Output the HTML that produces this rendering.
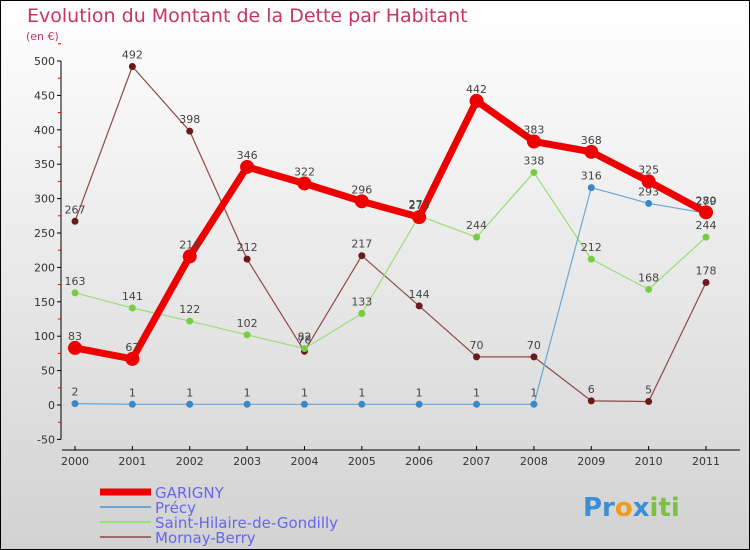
<!DOCTYPE html>
<html><head><meta charset="utf-8"><style>
body{margin:0}
#c{width:750px;height:550px;position:relative;overflow:hidden;font-family:"DejaVu Sans","Liberation Sans",sans-serif}
</style></head><body>
<div id="c">
<svg width="750" height="550" xmlns="http://www.w3.org/2000/svg">
<defs><linearGradient id="bg" x1="0" y1="0" x2="0" y2="1"><stop offset="0" stop-color="#ffffff"/><stop offset="1" stop-color="#d2d2d2"/></linearGradient></defs>
<rect x="0.5" y="0.5" width="749" height="549" fill="url(#bg)" stroke="#000"/>
<text x="27" y="22" font-size="19" fill="#c8336a">Evolution du Montant de la Dette par Habitant</text>
<text x="26" y="40" font-size="11" fill="#c8336a">(en €)</text>
<g id="axes"></g><g id="series"></g><g id="legend"></g>
<text x="583" y="516" font-size="26" font-weight="bold"><tspan fill="#3a8fd6">Pr</tspan><tspan fill="#f29a1f">o</tspan><tspan fill="#3a8fd6">x</tspan><tspan fill="#7bc043">iti</tspan></text>
</svg>
</div>
<script>
const years=["2000","2001","2002","2003","2004","2005","2006","2007","2008","2009","2010","2011"];
const garigny=[83,67,216,346,322,296,273,442,383,368,325,280];
const precy=[2,1,1,1,1,1,1,1,1,316,293,279];
const sthilaire=[163,141,122,102,82,133,275,244,338,212,168,244];
const mornay=[267,492,398,212,78,217,144,70,70,6,5,178];
const yTicks=[-50,0,50,100,150,200,250,300,350,400,450,500];
const NS="http://www.w3.org/2000/svg";
function xs(i){return 75+i*(706-75)/11;}
function ys(v){return 405-v*(344/500);}
function mk(t,a,p){const e=document.createElementNS(NS,t);for(const k in a)e.setAttribute(k,a[k]);p.appendChild(e);return e;}
const ax=document.getElementById('axes');
let yl=mk('line',{x1:61,y1:ys(500),x2:61,y2:ys(-50),stroke:'#000'},ax);


let xl=mk('line',{x1:62,y1:450,x2:740,y2:450,stroke:'#000'},ax);


yTicks.forEach(v=>{
 mk('line',{x1:57,y1:ys(v),x2:61,y2:ys(v),stroke:'#000'},ax);
 mk('line',{x1:58,y1:ys(v+25),x2:61,y2:ys(v+25),stroke:'#e00'},ax);
 const t=mk('text',{x:55,y:ys(v)+4,'font-size':11,fill:'#333','text-anchor':'end'},ax);t.textContent=v;
 
 
});
years.forEach((y,i)=>{
 mk('line',{x1:xs(i),y1:446,x2:xs(i),y2:450,stroke:'#000'},ax);
 const t=mk('text',{x:xs(i),y:465,'font-size':11,fill:'#333','text-anchor':'middle'},ax);t.textContent=y;
 
 
});
const sg=document.getElementById('series');
function draw(data,color,w,r,name,dot){
 const g=mk('g',{},sg);
 
 
 mk('polyline',{points:data.map((v,i)=>xs(i)+','+ys(v)).join(' '),fill:'none',stroke:color,'stroke-width':w,'stroke-linejoin':'round'},g);
 data.forEach((v,i)=>{
  const c=mk('circle',{cx:xs(i),cy:ys(v),r:r,fill:dot},g);
  
  
  const t=mk('text',{x:xs(i),y:ys(v)-8,'font-size':11,fill:'#444','text-anchor':'middle'},g);t.textContent=v;
  
  
 });
}
draw(mornay,'#8b4a4a',1.2,3.5,'mornay-berry','#6b1a1a');
draw(sthilaire,'#99dd77',1.2,3.5,'saint-hilaire','#77cc44');
draw(precy,'#6aa6d6',1.2,3.5,'precy','#3a88c8');
draw(garigny,'#ee0000',7,7,'garigny','#ee0000');
const lg=document.getElementById('legend');
const items=[["GARIGNY","#ee0000",7],["Précy","#6aa6d6",2],["Saint-Hilaire-de-Gondilly","#99dd77",2],["Mornay-Berry","#9b6a6a",2]];
items.forEach((it,i)=>{
 const y=492+i*15;
 const g=mk('g',{},lg);
 
 
 mk('line',{x1:100,y1:y,x2:151,y2:y,stroke:it[1],'stroke-width':it[2]},g);
 const t=mk('text',{x:155,y:y+6,'font-size':15,fill:'#6666ee'},g);t.textContent=it[0];
});
</script>
</body></html>
